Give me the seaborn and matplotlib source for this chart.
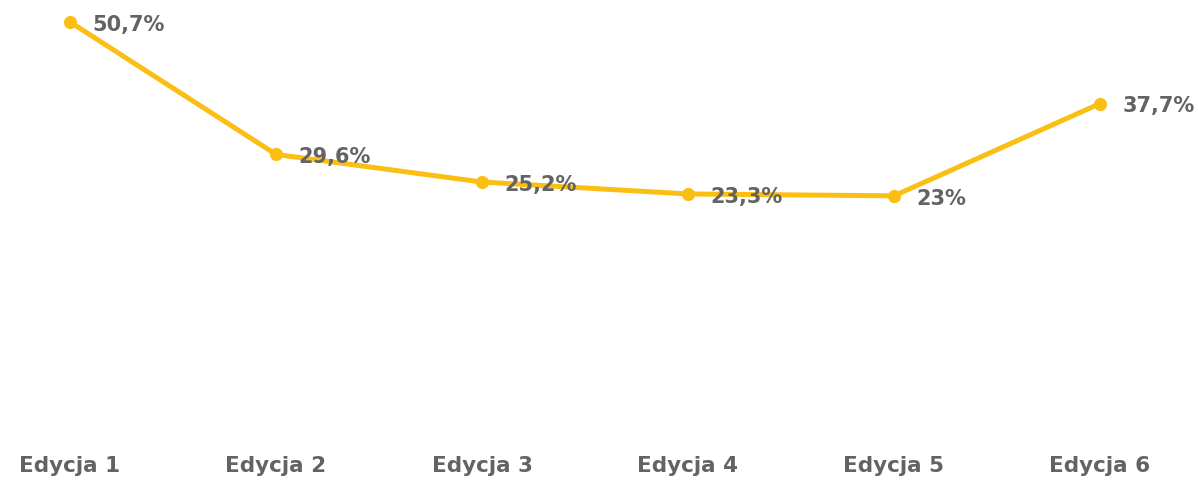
import matplotlib
matplotlib.use("Agg")
import matplotlib.pyplot as plt
import seaborn as sns
import pandas as pd

categories = ["Edycja 1", "Edycja 2", "Edycja 3", "Edycja 4", "Edycja 5", "Edycja 6"]
values = [50.7, 29.6, 25.2, 23.3, 23.0, 37.7]
labels = ["50,7%", "29,6%", "25,2%", "23,3%", "23%", "37,7%"]

sns.set_style("white")
plt.rcParams["font.family"] = ["DejaVu Sans"]

df = pd.DataFrame({"edycja": range(len(categories)), "wartosc": values})

line_color = "#FBBF14"
text_color = "#636363"

fig = plt.figure(figsize=(11.98, 4.8), dpi=100)
ax = fig.add_axes([0, 40 / 480, 1, 440 / 480])

sns.lineplot(data=df, x="edycja", y="wartosc", ax=ax, color=line_color,
             linewidth=3.6, marker="o", markersize=9.5, markeredgewidth=0)

for i, (v, lab) in enumerate(zip(values, labels)):
    ax.annotate(lab, (i, v), xytext=(16, -2), textcoords="offset points",
                ha="left", va="center", fontsize=15, fontweight="bold",
                color=text_color)

ax.set_xlim(-0.34, 5.476)
ax.set_ylim(-15.9, 54.2)
ax.set_xticks(range(len(categories)))
ax.set_xticklabels(categories, fontsize=15.5, fontweight="bold", color=text_color)
ax.tick_params(axis="x", length=0, pad=11.5)
ax.set_yticks([])
ax.set_xlabel("")
ax.set_ylabel("")
sns.despine(ax=ax, left=True, bottom=True)

fig.savefig("out.png", dpi=100)
